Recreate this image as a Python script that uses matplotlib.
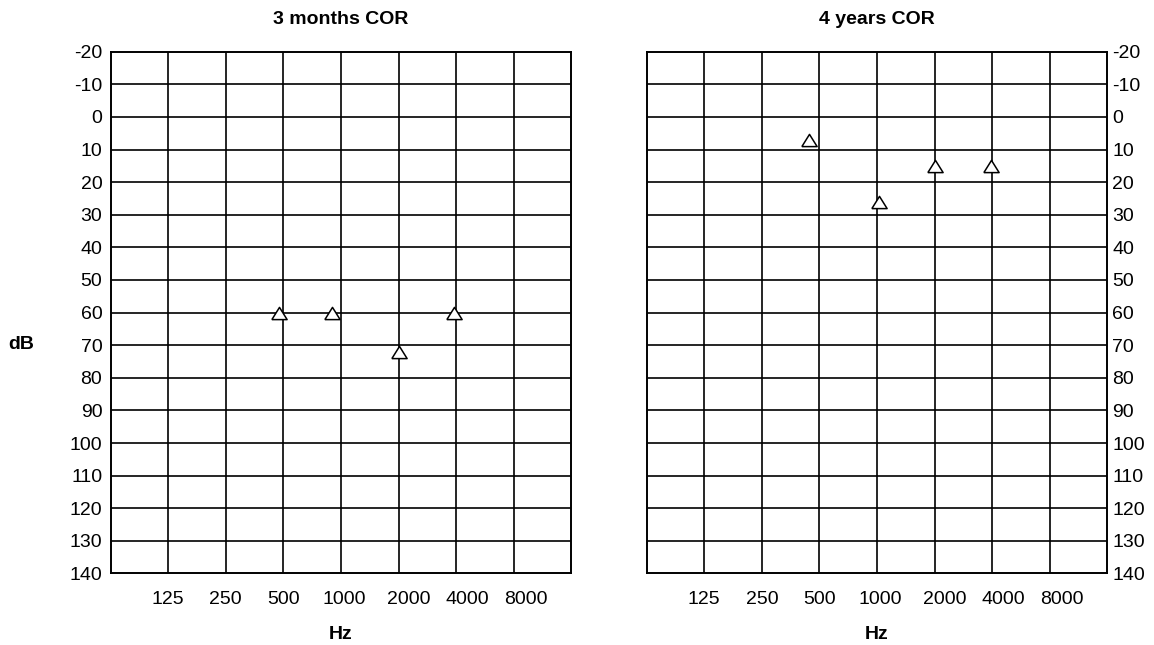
import numpy as np
import matplotlib
matplotlib.use("Agg")
import matplotlib.pyplot as plt

plt.rcParams["font.family"] = ["Liberation Sans", "DejaVu Sans"]

# ── DATA ─────────────────────────────────────────────────────
freq_labels = ["125", "250", "500", "1000", "2000", "4000", "8000"]
freq_hz     = [125, 250, 500, 1000, 2000, 4000, 8000]
db_ticks    = list(range(-20, 141, 10))

titles = ["3 months COR", "4 years COR"]

# thresholds (Hz, dB)
m3_freq = [476, 901, 2000, 3920]
m3_db   = [60, 60, 72, 60]
y4_freq = [441, 1028, 2000, 3950]
y4_db   = [7, 26, 15, 15]

# ── PLOT ─────────────────────────────────────────────────────
def pos(f):
    # octave position: 125 Hz -> 1, 250 Hz -> 2, ...
    return np.log2(np.asarray(f, dtype=float) / 125.0) + 1

tri = [(-1, -0.8), (1, -0.8), (0, 0.8), (-1, -0.8)]
nudge = [0, 0, 0, 0.05, 0.17, 0.19, 0.22]

fig = plt.figure(figsize=(11.54, 6.45), dpi=100)
ax1 = fig.add_axes([0.0959, 0.1109, 0.3991, 0.809])
ax2 = fig.add_axes([0.5604, 0.1109, 0.3991, 0.809])

for ax, title, fx, dy in [(ax1, titles[0], m3_freq, m3_db),
                          (ax2, titles[1], y4_freq, y4_db)]:
    ax.set_xlim(0, 8)
    ax.set_ylim(140, -20)
    for p in pos(freq_hz):
        ax.axvline(p, color="black", lw=1.2, zorder=1)
    for d in db_ticks[1:-1]:
        ax.axhline(d, color="black", lw=1.2, zorder=1)
    ax.plot(pos(fx), dy, linestyle="none", marker=tri, ms=11,
            mfc="white", mec="black", mew=1.1, zorder=3)

    ax.set_xticks(pos(freq_hz) + np.array(nudge))
    ax.set_xticklabels(freq_labels, fontsize=14)
    ax.set_yticks(db_ticks)
    ax.set_yticklabels([str(d) for d in db_ticks], fontsize=14)
    ax.tick_params(axis="x", length=0, pad=12.5)
    ax.tick_params(axis="y", length=0)
    for s in ax.spines.values():
        s.set_linewidth(1.4)
    ax.set_title(title, fontsize=14, fontweight="bold", pad=20)
    ax.set_xlabel("Hz", fontsize=14, fontweight="bold", labelpad=13)

ax1.tick_params(axis="y", pad=6)
ax2.yaxis.tick_right()
ax2.tick_params(axis="y", pad=3.5, length=0)

fig.text(21 / 1154, 1 - 345 / 645, "dB", fontsize=14, fontweight="bold",
         ha="center", va="center")

plt.savefig("out.png", dpi=100)
plt.close()
